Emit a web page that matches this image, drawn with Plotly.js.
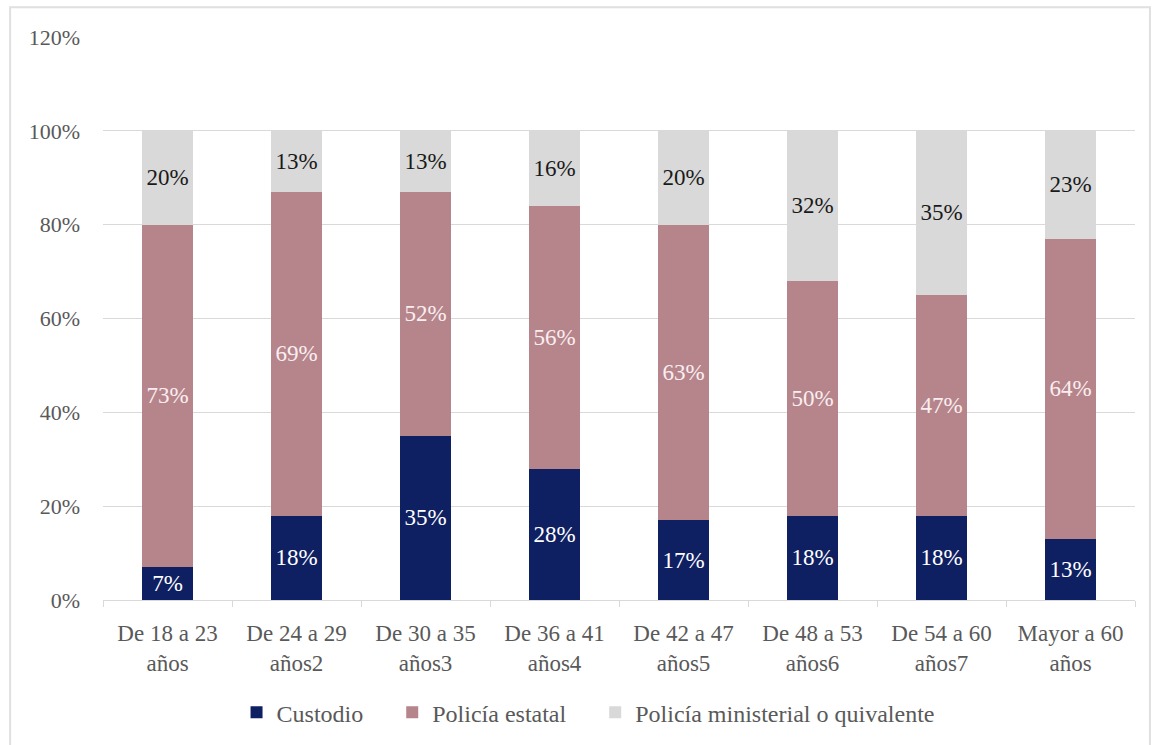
<!DOCTYPE html>
<html><head><meta charset="utf-8">
<script src="https://cdn.plot.ly/plotly-3.0.1.min.js"></script>
<style>html,body{margin:0;padding:0;background:#fff}</style>
</head><body><div id="chart" style="width:1159px;height:745px"></div>
<script>
const categories = ["De 18 a 23<br>años","De 24 a 29<br>años2","De 30 a 35<br>años3","De 36 a 41<br>años4","De 42 a 47<br>años5","De 48 a 53<br>años6","De 54 a 60<br>años7","Mayor a 60<br>años"];
const custodio = [7,18,35,28,17,18,18,13];
const policiaEstatal = [73,69,52,56,63,50,47,64];
const policiaMinisterial = [20,13,13,16,20,32,35,23];
const seriesNames = ["Custodio","Policía estatal","Policía ministerial o quivalente"];
const yTicks = [0,20,40,60,80,100,120];

const FONT = "Liberation Serif, DejaVu Serif, serif";
const PAD = '\u00a0'.repeat(4);
function trace(name, vals, color, txtColor, pad){
  return {type:'bar', name:name + (pad ? PAD : ''), x:categories, y:vals, marker:{color:color},
    text: vals.map(v=>v+'%'), textposition:'inside', insidetextanchor:'middle',
    textfont:{family:FONT, size:23, color:txtColor}, constraintext:'none',
    hoverinfo:'skip'};
}
const data = [
  trace(seriesNames[0], custodio, '#0f2062', '#ffffff', true),
  trace(seriesNames[1], policiaEstatal, '#b5858b', '#fbeef0', true),
  trace(seriesNames[2], policiaMinisterial, '#d9d9d9', '#1a1a1a', false)
];
const layout = {
  barmode:'stack', bargap:0.6,
  width:1159, height:745,
  margin:{l:103, r:24, t:37, b:145, autoexpand:false},
  paper_bgcolor:'#ffffff', plot_bgcolor:'#ffffff',
  font:{family:FONT, size:18, color:'#595959'},
  showlegend:true,
  legend:{orientation:'h', x:0.47, xanchor:'center', y:-0.16, yanchor:'top', bgcolor:'rgba(0,0,0,0)', font:{family:FONT, size:24, color:'#595959'}, traceorder:'normal', itemwidth:30},
  xaxis:{type:'category', showline:true, linecolor:'#d9d9d9', linewidth:1, ticks:'outside', tickson:'boundaries', ticklen:6, tickcolor:'#d9d9d9', ticklabelstandoff:12, tickfont:{family:FONT, size:23, color:'#595959'}, showgrid:false, automargin:false},
  yaxis:{range:[0,120], tickvals:yTicks, ticktext:yTicks.map(v=>v+'%'), showgrid:true, gridcolor:'#d9d9d9', gridwidth:1, zeroline:false, showline:false, tickfont:{family:FONT, size:22, color:'#595959'}, ticks:'', ticklabelstandoff:22, automargin:false},
  shapes:[{type:'rect', xref:'paper', yref:'paper', x0:-0.090, x1:1.0145, y0:-0.3, y1:1.053, line:{color:'#e0e0e0', width:2}, fillcolor:'rgba(0,0,0,0)'}]
};
Plotly.newPlot('chart', data, layout, {displayModeBar:false, staticPlot:true});
</script></body></html>
